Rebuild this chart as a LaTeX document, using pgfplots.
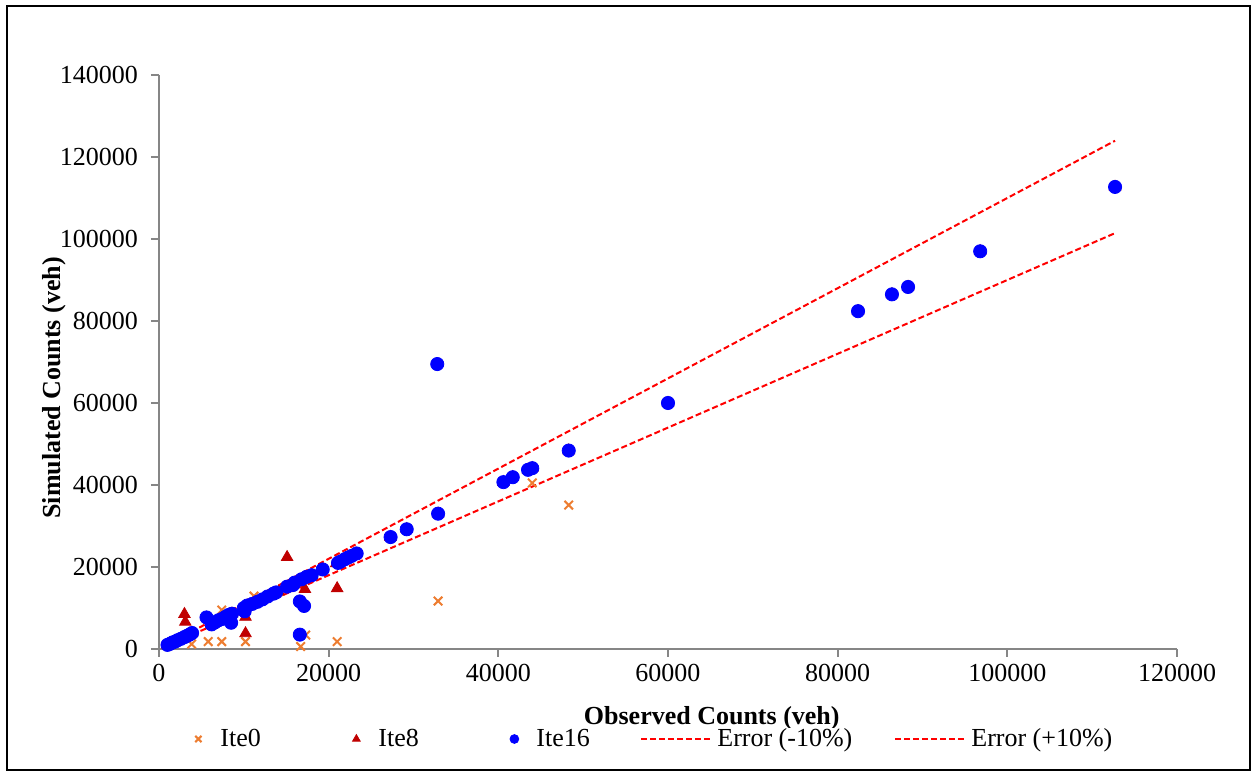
\documentclass[border=0pt]{standalone}
\usepackage{pgfplots}
\pgfplotsset{compat=1.18}
\usepackage{fontspec}
\setmainfont{Liberation Serif}
\definecolor{xlorange}{RGB}{237,125,49}
\definecolor{xlred}{RGB}{192,0,0}
\definecolor{axgray}{RGB}{134,134,134}
\pgfplotsset{
  markleg/.style={legend image code/.code={\path[draw=none,fill=none] (0pt,-3pt) rectangle (17pt,3pt); \draw[##1, mark size=2.2pt] plot coordinates {(8.5pt,0pt)};}},
  lineleg/.style={legend image code/.code={\draw[##1] (0pt,0pt) -- (35pt,0pt);}},
}
\begin{document}
\begin{tikzpicture}
\useasboundingbox (-79.5pt,-63.5pt) rectangle (548pt,324.5pt);
\draw[black, line width=1pt] (-76pt,-60.5pt) rectangle (545.5pt,321.5pt);
\begin{axis}[
  at={(0pt,0pt)}, anchor=south west,
  scale only axis, width=509pt, height=287pt,
  xmin=0, xmax=120000, ymin=0, ymax=140000,
  xtick={0,20000,...,120000}, ytick={0,20000,...,140000},
  scaled ticks=false,
  /pgf/number format/fixed,
  /pgf/number format/1000 sep={},
  /pgf/number format/assume math mode=true,
  axis lines*=left,
  axis line style={axgray, line width=1pt},
  tick align=outside,
  major tick length=4pt,
  tick style={axgray, line width=1pt},
  font=\fontsize{13}{15.6}\selectfont,
  yticklabel style={xshift=-3pt},
  xlabel={\bfseries Observed Counts (veh)},
  ylabel={\bfseries Simulated Counts (veh)},
  xlabel style={at={(axis description cs:0.543,-0.121)}, anchor=center},
  ylabel style={at={(axis description cs:-0.103,0.455)}, anchor=center},
  clip=false,
  legend columns=5,
  legend style={at={(axis description cs:0.0216,-0.1568)}, anchor=west,
    draw=none, inner sep=0pt, column sep=0pt,
    font=\fontsize{13}{15.6}\selectfont,
    nodes={inner sep=0pt, anchor=west},
    /tikz/every odd column/.append style={column sep=2.5pt}},
]
% Ite0
\addplot[only marks, mark=x, mark size=3pt, color=xlorange, line width=1pt, markleg]
coordinates {
(1000,1000)(1600,1600)(2200,2150)(3000,2900)(3850,1200)(5800,1800)(7400,1800)(7400,9500)
(7000,7000)(8200,8300)(10200,1800)(10400,10600)(11200,12900)(12800,12800)(14100,14000)
(15800,15600)(16700,600)(17300,3400)(18000,18000)(21000,1800)(22300,22300)(27300,27300)
(29200,29200)(32900,11700)(40600,40700)(41700,41900)(44000,40500)(48300,35100)
(60000,60000)(82400,82400)(86400,86500)(88300,88300)(96800,97000)(112700,112700)
};
\addlegendentry{\makebox[59.5pt][l]{Ite0}}
% Ite8
\addplot[only marks, mark=triangle*, mark size=3.3pt, color=xlred, markleg]
coordinates {
(1000,1000)(1300,1250)(1600,1600)(1900,1800)(2200,2150)(2600,2500)(3000,8500)(3100,6600)
(3300,3200)(3600,3500)(3900,3900)(6200,6000)(6600,6500)(7000,7000)(7400,7300)(7800,7800)
(8200,8300)(8600,8600)(10000,10000)(10200,3800)(10200,7800)(10400,10600)(11000,11000)
(11600,11500)(12200,12100)(12800,12800)(13500,13500)(14100,14000)(15100,22400)(15200,15100)
(15800,15600)(16300,16200)(16800,16700)(17200,14600)(17600,17500)(18000,18000)(19200,19300)
(21000,14800)(20900,20900)(21400,21300)(21900,21800)(22300,22300)(22800,22800)(23200,23200)
(27300,27300)(29200,29200)(32900,33000)(40600,40700)(41700,41900)(43500,43700)(44000,44100)
(48300,48400)(60000,60000)(82400,82400)(86400,86500)(88300,88300)(96800,97000)(112700,112700)
};
\addlegendentry{\makebox[59.5pt][l]{Ite8}}
% Ite16
\addplot[only marks, mark=*, mark size=3.3pt, color=blue, markleg]
coordinates {
(1000,1000)(1300,1250)(1600,1600)(1900,1800)(2200,2150)(2600,2500)(3000,2900)(3300,3200)
(3600,3500)(3900,3900)(5600,7700)(6200,6000)(6600,6500)(7000,7000)(7400,7300)(7800,7800)
(8200,8300)(8600,8600)(8500,6400)(10000,10000)(10100,9200)(10400,10600)(11000,11000)
(11600,11500)(12200,12100)(12800,12800)(13500,13500)(13800,13800)(15100,15200)(15800,15600)
(16000,16200)(16800,17000)(17400,17600)(18000,18000)(19300,19400)(16600,3500)(16600,11600)
(17100,10500)(21100,21000)(21400,21300)(21900,21900)(22300,22300)(22700,22700)(23300,23300)
(27300,27300)(29200,29200)(32900,33000)(32800,69500)(40600,40700)(41700,41900)(43500,43700)
(44000,44100)(48300,48400)(60000,60000)(82400,82400)(86400,86500)(88300,88300)(96800,97000)
(112700,112700)
};
\addlegendentry{\makebox[52pt][l]{Ite16}}
% Error lines
\addplot[color=red, line width=1pt, dash pattern=on 3pt off 1.5pt, lineleg]
coordinates {(1000,900)(112700,101430)};
\addlegendentry{\makebox[88.5pt][l]{Error (-10\%)}}
\addplot[color=red, line width=1pt, dash pattern=on 3pt off 1.5pt, lineleg]
coordinates {(1000,1100)(112700,123970)};
\addlegendentry{Error (+10\%)}
\end{axis}
\end{tikzpicture}
\end{document}
